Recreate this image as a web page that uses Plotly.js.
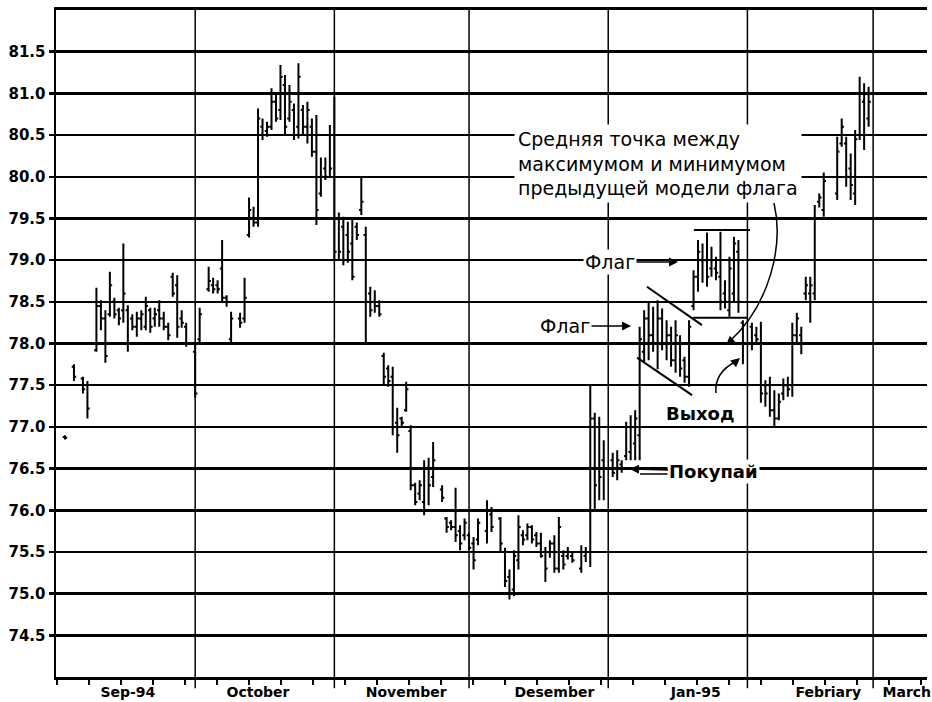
<!DOCTYPE html>
<html>
<head>
<meta charset="utf-8">
<script src="https://cdn.plot.ly/plotly-3.0.1.min.js"></script>
<style>
html,body{margin:0;padding:0;background:#fff;}
#chart{width:932px;height:702px;}
</style>
</head>
<body>
<div id="chart"></div>
<script>
// ---- trading days per month (day of month) ----
const sepDays = [2,4,6,7,9,10,11,12,13,14,15,16,17,18,19,20,21,22,23,24,25,26,27,28,29];
const octDays = [1,2,4,5,6,7,8,9,11,12,13,14,15,16,17,18,19,20,21,22,23,24,25,26,27,28,29,30,31];
const novDays = [1,2,3,4,5,6,7,8,9,10,11,12,13,14,15,16,17,18,19,20,21,22,23,25,26,27,28,29,30];
const decDays = [1,2,3,5,6,8,9,10,11,12,13,14,15,16,17,18,19,20,21,22,23,24,26,27,28,29,30,31];
const janDays = [2,3,4,5,6,7,8,9,10,11,12,13,14,15,16,17,18,19,20,21,22,23,24,25,26,27,28,29,30,31];
const febDays = [2,3,4,5,6,7,8,9,10,11,12,13,14,15,16,17,18,21,22,23,24,25,26,27,28];
const monthKeys = ['1994-09','1994-10','1994-11','1994-12','1995-01','1995-02'];

// ---- prices (Sep | Oct | Nov | Dec | Jan | Feb) ----
const opens = [
 76.88,77.72,77.58,77.50,77.92,78.45,78.30,78.35,78.50,78.40,78.40,78.40,78.30,78.20,78.30,78.20,78.40,78.30,78.40,78.30,78.20,78.80,78.70,78.30,78.20,
 77.90,78.05,78.65,78.70,78.70,78.90,78.55,78.05,78.30,78.30,79.30,79.50,79.45,80.60,80.55,80.60,80.90,80.80,81.10,80.70,80.80,80.60,80.80,80.60,80.60,80.30,79.80,80.10,80.50,
 80.50,79.50,79.40,79.30,79.20,79.40,79.60,79.30,78.60,78.50,78.45,77.85,77.70,77.60,77.05,77.10,77.20,76.95,76.30,76.20,76.10,76.50,76.40,76.25,75.90,75.85,75.80,75.75,75.70,
 75.70,75.60,75.65,75.75,75.95,75.90,75.50,75.20,75.05,75.40,75.70,75.70,75.80,75.70,75.60,75.50,75.50,75.60,75.30,75.45,75.45,75.45,75.30,75.45,75.50,77.10,76.50,76.60,
 76.60,76.50,76.55,76.65,76.70,76.80,76.90,77.90,78.30,78.10,78.00,78.30,78.00,78.10,77.80,78.00,77.80,77.60,78.45,78.80,79.00,79.00,78.90,78.90,78.80,78.60,78.40,78.60,79.10,78.25,
 78.20,78.10,78.00,77.50,77.50,77.20,77.10,77.40,77.50,77.50,78.10,78.10,78.60,78.60,78.60,79.70,79.60,79.80,80.40,80.40,80.10,79.80,80.50,80.90,80.70
];
const highs = [
 76.90,77.75,77.60,77.55,78.67,78.52,78.40,78.86,78.55,78.43,79.20,78.46,78.35,78.38,78.40,78.56,78.43,78.43,78.52,78.38,78.25,78.85,78.82,78.40,78.25,
 78.00,78.43,78.92,78.79,78.76,79.24,78.58,78.38,78.37,78.79,79.75,79.64,80.82,80.70,80.66,81.06,81.00,81.34,81.22,81.10,80.88,81.36,80.86,80.90,80.70,80.74,80.23,80.23,80.62,
 80.96,79.57,79.52,79.46,79.48,79.45,79.99,79.40,78.68,78.64,78.52,77.89,77.74,77.72,77.23,77.12,77.54,77.02,76.33,76.36,76.60,76.63,76.82,76.30,75.92,75.88,76.27,75.82,75.90,
 75.73,75.68,75.90,76.12,76.04,75.92,75.55,75.29,75.52,75.94,75.76,75.84,75.82,75.74,75.73,75.56,75.64,75.70,75.92,75.52,75.56,75.49,75.58,75.56,77.50,77.17,77.12,76.84,
 76.69,76.72,76.60,77.06,77.14,77.20,78.20,78.40,78.49,78.44,78.52,78.42,78.28,78.20,78.28,78.10,77.84,78.28,78.88,79.24,79.20,79.33,79.16,79.04,79.34,78.76,79.04,79.28,79.24,78.28,
 78.25,78.20,78.26,77.56,77.60,77.44,77.40,77.58,77.60,78.25,78.37,78.20,78.80,78.80,79.66,79.80,80.05,80.48,80.70,80.48,80.28,80.56,81.20,81.12,81.08
];
const lows = [
 76.85,77.55,77.40,77.10,77.90,78.16,77.77,78.32,78.30,78.22,78.25,77.90,78.16,78.08,78.16,78.16,78.13,78.20,78.20,78.16,78.04,78.56,78.07,78.19,77.96,
 77.35,78.00,78.62,78.60,78.60,78.49,78.44,78.00,78.19,78.25,79.27,79.40,79.40,80.44,80.48,80.56,80.66,80.68,80.50,80.66,80.44,80.46,80.50,80.40,80.24,79.42,79.76,79.96,80.00,
 79.00,79.00,78.94,78.97,78.76,79.24,79.54,78.00,78.32,78.37,78.32,77.50,77.48,76.90,76.69,77.00,77.18,76.24,76.06,76.12,75.94,76.06,76.28,76.10,75.73,75.76,75.62,75.52,75.64,
 75.52,75.29,75.58,75.60,75.74,75.49,75.08,74.93,74.97,75.29,75.58,75.64,75.60,75.56,75.43,75.14,75.43,75.25,75.25,75.29,75.41,75.37,75.25,75.38,75.32,76.00,76.12,76.12,
 76.40,76.36,76.45,76.60,76.60,76.60,76.60,77.77,77.80,77.90,77.69,77.92,77.80,77.72,77.65,77.60,77.53,77.48,78.40,78.62,78.73,78.68,78.80,78.76,78.40,78.42,78.32,78.49,78.37,77.75,
 77.92,78.00,77.29,77.24,77.12,77.00,77.08,77.32,77.36,77.36,78.00,77.87,78.52,78.25,78.52,79.63,79.52,79.72,80.36,79.88,79.72,79.66,80.44,80.32,80.60
];
const closes = [
 76.87,77.60,77.45,77.22,78.45,78.30,77.85,78.70,78.35,78.30,78.60,78.00,78.20,78.30,78.35,78.45,78.20,78.35,78.30,78.20,78.10,78.60,78.20,78.25,78.00,
 77.40,78.35,78.75,78.65,78.65,78.55,78.50,78.30,78.25,78.55,79.60,79.45,80.70,80.50,80.60,80.90,80.70,81.20,80.60,80.90,80.50,81.20,80.60,80.80,80.30,79.60,80.00,80.00,80.10,
 79.10,79.10,79.00,79.10,78.80,79.30,79.70,78.50,78.40,78.45,78.35,77.60,77.55,77.00,76.90,77.05,77.45,76.30,76.10,76.30,76.50,76.30,76.60,76.15,75.80,75.80,75.70,75.60,75.85,
 75.55,75.40,75.85,76.00,75.80,75.60,75.15,75.00,75.45,75.80,75.65,75.80,75.65,75.60,75.45,75.30,75.60,75.30,75.80,75.35,75.50,75.40,75.50,75.50,77.10,76.30,76.40,76.50,
 76.45,76.60,76.50,77.00,77.00,77.10,78.05,78.30,78.10,78.00,78.30,78.00,78.10,77.80,78.10,77.70,77.60,78.20,78.80,79.10,79.00,78.80,79.00,78.85,78.50,78.50,78.90,79.20,78.50,78.00,
 78.00,78.05,77.40,77.40,77.20,77.10,77.30,77.50,77.45,78.10,78.30,78.00,78.70,78.70,79.50,79.75,79.95,80.30,80.60,80.00,79.90,80.45,81.00,80.50,80.90
];

// ---- axes ----
const yTicks = [74.5,75.0,75.5,76.0,76.5,77.0,77.5,78.0,78.5,79.0,79.5,80.0,80.5,81.0,81.5];
const monthStarts = ['1994-10-01','1994-11-01','1994-12-01','1995-01-01','1995-02-01','1995-03-01'];
const monthLabelDates = ['1994-09-16','1994-10-15','1994-11-17','1994-12-20','1995-01-20 12:00','1995-02-19','1995-03-08 12:00'];
const monthLabels = ['Sep-94','October','November','Desember','Jan-95','Febriary','March'];

// ---- flag annotations (date, price) ----
const flag1Upper = {x:['1995-01-09 15:00','1995-01-21 21:00'], y:[78.68,78.22]};
const flag1Lower = {x:['1995-01-07 10:00','1995-01-19 16:00'], y:[77.83,77.38]};
const flag2Top    = {x:['1995-01-20 02:00','1995-02-01 14:00'], y:[79.36,79.36]};
const flag2Bottom = {x:['1995-01-19 22:00','1995-02-01 03:00'], y:[78.31,78.31]};
const midLine     = {x:['1995-01-20 19:00','1995-01-30 08:00'], y:[78.0,78.0]};

function pad(n){return (n<10?'0':'')+n;}
const dayGroups = [sepDays,octDays,novDays,decDays,janDays,febDays];
const dates = [];
dayGroups.forEach((g,i)=>g.forEach(d=>dates.push(monthKeys[i]+'-'+pad(d))));

const trace = {
  type:'ohlc', x:dates, open:opens, high:highs, low:lows, close:closes,
  increasing:{line:{color:'black', width:2}},
  decreasing:{line:{color:'black', width:2}},
  tickwidth:0.5, hoverinfo:'skip', showlegend:false
};

function lineShape(obj, opts){
  return Object.assign({type:'line', xref:'x', yref:'y', x0:obj.x[0], x1:obj.x[1], y0:obj.y[0], y1:obj.y[1],
    line:{color:'black', width:2}, layer:'above'}, opts||{});
}

const shapes = [];
monthStarts.forEach(m=>shapes.push({type:'line', xref:'x', yref:'paper', x0:m, x1:m, y0:-0.017, y1:1,
  line:{color:'black', width:1.5}, layer:'below'}));
shapes.push(lineShape(flag1Upper));
shapes.push(lineShape(flag1Lower));
shapes.push(lineShape(flag2Top));
shapes.push(lineShape(flag2Bottom));
shapes.push(lineShape(midLine, {line:{color:'black', width:3, dash:'dot'}}));
// curved pointer lines (paper coordinates)
shapes.push({type:'path', xref:'paper', yref:'paper', layer:'above',
  path:'M 0.8243 0.7106 C 0.8358 0.6476, 0.8197 0.5577, 0.7727 0.5022', line:{color:'black', width:1.5}});
shapes.push({type:'path', xref:'paper', yref:'paper', layer:'above',
  path:'M 0.7577 0.4258 Q 0.7555 0.4573, 0.7819 0.4738', line:{color:'black', width:1.5}});
shapes.push({type:'line', xref:'paper', yref:'paper', x0:0.6705, x1:0.7084, y0:0.3043, y1:0.3043,
  line:{color:'black', width:1.5}, layer:'above'});

const txtFont = {family:'DejaVu Sans', size:19, color:'black'};
const boldFont = {family:'DejaVu Sans', size:18, color:'black'};
const annotations = [
  {xref:'paper', yref:'paper', x:0.5258, y:0.7706, xanchor:'left', yanchor:'middle', align:'left',
   text:'Средняя точка между<br>максимумом и минимумом<br>предыдущей модели флага',
   showarrow:false, font:txtFont, bgcolor:'white', borderpad:3},
  {xref:'paper', yref:'paper', x:0.7141, y:0.6222, text:'Флаг', showarrow:true, ax:-68, ay:0,
   arrowhead:2, arrowsize:1.2, arrowwidth:1.5, arrowcolor:'black', font:txtFont, bgcolor:'white'},
  {xref:'paper', yref:'paper', x:0.6602, y:0.5262, text:'Флаг', showarrow:true, ax:-66, ay:0,
   arrowhead:2, arrowsize:1.2, arrowwidth:1.5, arrowcolor:'black', font:txtFont, bgcolor:'white'},
  {xref:'paper', yref:'paper', x:0.7394, y:0.3958, xanchor:'center', yanchor:'middle',
   text:'<b>Выход</b>', showarrow:false, font:boldFont},
  {xref:'paper', yref:'paper', x:0.6590, y:0.3118, text:'<b>Покупай</b>', showarrow:true, ax:84, ay:2,
   arrowhead:2, arrowsize:1.2, arrowwidth:1.5, arrowcolor:'black', font:boldFont, bgcolor:'white'},
  {xref:'paper', yref:'paper', x:0.7853, y:0.4783, text:'', showarrow:true, ax:-7, ay:6,
   arrowhead:2, arrowsize:1.2, arrowwidth:1.5, arrowcolor:'black'},
  {xref:'paper', yref:'paper', x:0.7692, y:0.4978, text:'', showarrow:true, ax:7, ay:-6,
   arrowhead:2, arrowsize:1.2, arrowwidth:1.5, arrowcolor:'black'}
];

const layout = {
  width:932, height:702,
  margin:{l:56, r:5, t:10, b:25},
  paper_bgcolor:'white', plot_bgcolor:'white',
  showlegend:false,
  xaxis:{
    type:'date', range:['1994-08-31','1995-03-13'],
    rangeslider:{visible:false},
    tickmode:'array', tickvals:monthLabelDates, ticktext:monthLabels, ticks:'',
    ticklabeloverflow:'allow',
    tickfont:{family:'DejaVu Sans', size:14, color:'black', weight:'bold'},
    showgrid:false, zeroline:false,
    showline:true, linecolor:'black', linewidth:3, mirror:true,
    minor:{tickmode:'linear', tick0:'1994-09-07 08:00', dtick:615770000, ticks:'outside',
           ticklen:5, tickwidth:1.5, tickcolor:'black', showgrid:false},
    fixedrange:true
  },
  yaxis:{
    range:[74,82], tickmode:'array', tickvals:yTicks, tickformat:'.1f',
    ticks:'outside', ticklen:5, tickwidth:2.5, tickcolor:'black',
    showgrid:true, gridcolor:'black', gridwidth:2.5, zeroline:false,
    showline:true, linecolor:'black', linewidth:2.5,
    tickfont:{family:'DejaVu Sans', size:15, color:'black', weight:'bold'},
    fixedrange:true
  },
  shapes:shapes,
  annotations:annotations
};

Plotly.newPlot('chart', [trace], layout, {displayModeBar:false, staticPlot:true});
</script>
</body>
</html>
